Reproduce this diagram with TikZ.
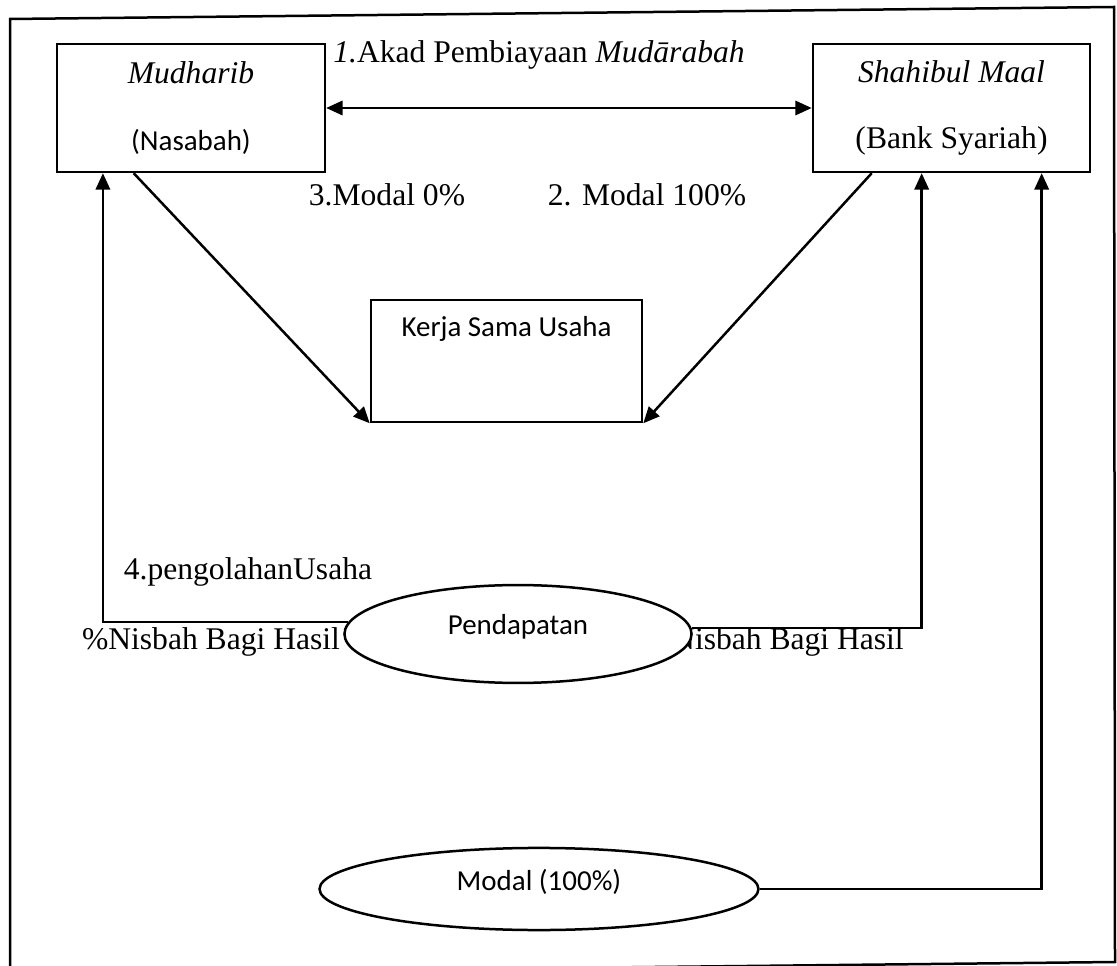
\documentclass[tikz,border=0pt]{standalone}
\usepackage{fontspec}
\setmainfont{Liberation Serif}
\newfontfamily\calibri{Carlito}
\usetikzlibrary{arrows.meta,shapes.geometric}

\begin{document}
\begin{tikzpicture}[x=0.38pt,y=-0.38pt,line width=0.95pt,
  >={Triangle[length=6.2pt,width=5.4pt]},
  font=\fontsize{12}{14.4}\selectfont,
  mybox/.style={draw,rectangle,inner sep=0pt,align=center},
  mytext/.style={inner sep=0pt},
  myoval/.style={draw,ellipse,fill=white,inner sep=0pt,text depth=7pt,
    font=\calibri\fontsize{11}{13}\selectfont}]
\useasboundingbox (0,0) rectangle (1117,966);
\draw (10,19) -- (1114,7) -- (1115,962) -- (10,974) -- cycle;
\node [mybox,minimum width=101.8pt,minimum height=48.6pt] (mudharib) at (191,108)
  {\textit{Mudharib}\\[11pt]{\calibri\fontsize{11}{13}\selectfont (Nasabah)}};
\node [mybox,minimum width=105.3pt,minimum height=48.6pt] (shahibul) at (951.5,108)
  {\textit{Shahibul Maal}\\[11pt](Bank Syariah)};
\node [mybox,font=\calibri\fontsize{11}{13}\selectfont,minimum width=103pt,
  text height=14pt,text depth=32.4pt] (kerja) at (506.5,361) {Kerja Sama Usaha};
\node [mytext] (akad) at (539,55) {\textit{1.}Akad Pembiayaan \textit{Mudārabah}};
\node [mytext] (modalnol) at (387,195) {3.Modal 0\%};
\node [mytext] (modalpenuh) at (647,195) {2. Modal 100\%};
\node [mytext] (olah) at (248,572) {4.pengolahanUsaha};
\node [mytext] (nisbahkiri) at (211,642) {\%Nisbah Bagi Hasil};
\node [mytext,anchor=east] (nisbahkanan) at (905,642) {Nisbah Bagi Hasil};
\node [myoval,minimum width=131.9pt,minimum height=37.2pt] (pendapatan) at (518,634) {Pendapatan};
\node [myoval,minimum width=166.8pt,minimum height=31.2pt] (modal) at (539,889) {Modal (100\%)};
\draw [<->] (mudharib.east) -- (shahibul.west);
\draw [->] ([xshift=29.6pt]mudharib.south west) -- (kerja.south west);
\draw [->] ([xshift=22.8pt]shahibul.south west) -- (kerja.south east);
\draw [->] (pendapatan.176) -| ([xshift=17.9pt]mudharib.south west);
\draw [->] (pendapatan.2) -| ([xshift=41.8pt]shahibul.south west);
\draw [->] (modal.east) -| ([xshift=87.4pt]shahibul.south west);
\end{tikzpicture}
\end{document}
